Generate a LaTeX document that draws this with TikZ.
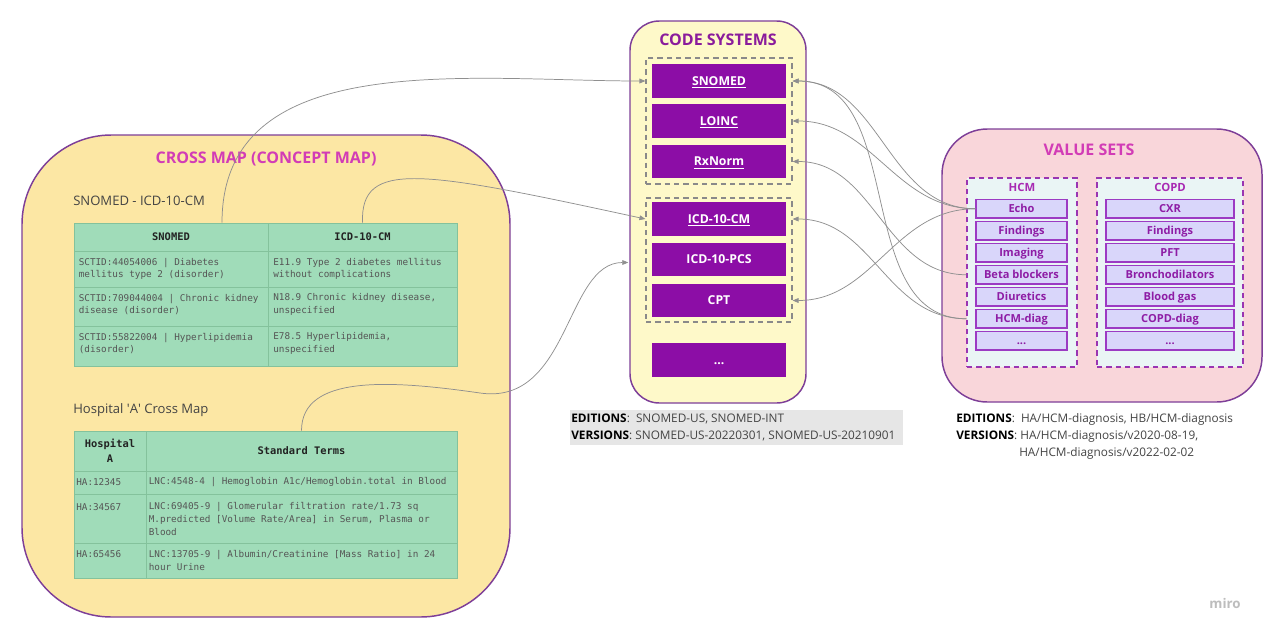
\documentclass[tikz,border=0pt]{standalone}
\usepackage{fontspec}
\setmainfont{Open Sans}
\newfontfamily\monof{DejaVu Sans Mono}
\usetikzlibrary{calc,arrows.meta}
\definecolor{ccross}{HTML}{FCE7A4}
\definecolor{cpurp}{HTML}{7E3F98}
\definecolor{ctitle}{HTML}{D23CB6}
\definecolor{ccstitle}{HTML}{8A1C9C}
\definecolor{ctfill}{HTML}{A0DCB9}
\definecolor{ctline}{HTML}{84C29C}
\definecolor{ctxt}{HTML}{555555}
\definecolor{chdr}{HTML}{222222}
\definecolor{ccsfill}{HTML}{FEF9C9}
\definecolor{ccsbox}{HTML}{8C0DA6}
\definecolor{cdash}{HTML}{8A8A8A}
\definecolor{cvsfill}{HTML}{F9D6DA}
\definecolor{cgrpf}{HTML}{EAF5F5}
\definecolor{cvsdash}{HTML}{9A35B2}
\definecolor{cgrplbl}{HTML}{A82AB3}
\definecolor{citemf}{HTML}{D9D6FA}
\definecolor{citemb}{HTML}{9C3BC3}
\definecolor{citemt}{HTML}{8E1DA5}
\definecolor{cconn}{HTML}{8F8F8F}
\definecolor{cedit}{HTML}{E6E6E6}
\definecolor{csub}{HTML}{444444}
\definecolor{cmiro}{HTML}{BDBDBD}
\newcommand\tmono{\monof\fontsize{7}{9.5}\selectfont}
\newcommand\tmonob{\monof\bfseries\fontsize{7.8}{11.25}\selectfont}
\newcommand\edfont{\fontsize{8.85}{11}\selectfont}
\begin{document}
\begin{tikzpicture}[x=0.75pt,y=-0.75pt,
  sz/.style 2 args={minimum width={#1*0.75pt}, minimum height={#2*0.75pt}},
  container/.style={draw=cpurp, line width=1.1pt, inner sep=0pt},
  bigtitle/.style={font=\bfseries\fontsize{12}{14}\selectfont, inner sep=0pt},
  subtitle/.style={font=\fontsize{9.8}{12}\selectfont, text=csub, inner sep=0pt, anchor=west},
  cell/.style={draw=ctline, fill=ctfill, line width=0.6pt, inner sep=0pt},
  hcell/.style={cell, font=\tmonob, text=chdr, align=center},
  ctext/.style={font=\tmono, text=ctxt, align=left, anchor=west, inner sep=0pt},
  csitem/.style={fill=ccsbox, inner sep=0pt, text=white, text height=6.6pt, text depth=0pt, font=\bfseries\fontsize{9.2}{11}\selectfont},
  csgroup/.style={draw=cdash, dash pattern=on 4pt off 3pt, line width=0.9pt, inner sep=0pt},
  vsgroup/.style={draw=cvsdash, fill=cgrpf, dash pattern=on 4pt off 3pt, line width=1pt, inner sep=0pt},
  vsitem/.style={draw=citemb, fill=citemf, line width=0.9pt, inner sep=0pt, text=citemt, text height=5.9pt, text depth=0pt, font=\bfseries\fontsize{8.3}{10}\selectfont},
  grplabel/.style={text=cgrplbl, font=\bfseries\fontsize{8.5}{10}\selectfont, inner sep=0pt},
  edtext/.style={font=\edfont, text=csub, anchor=west, inner sep=0pt},
  conn/.style={draw=cconn, line width=0.55pt, -{Triangle[length=4.5pt,width=3.6pt]}}
]
\useasboundingbox (0,0) rectangle (1280,639);
\fill[white] (0,0) rectangle (1280,639);

% ---------------- containers
\node[container, fill=ccross, rounded corners=67pt, sz={488}{482}] (cross) at (266,376) {};
\node[container, fill=ccsfill, rounded corners=22pt, sz={176}{382}] (cs) at (718,212) {};
\node[container, fill=cvsfill, rounded corners=34pt, sz={320}{273}] (vs) at (1102,265.5) {};

% ---------------- cross map
\node[bigtitle, text=ctitle] (crosstitle) at (266,159) {CROSS MAP (CONCEPT MAP)};
\node[subtitle] (sub1) at (73,201) {SNOMED - ICD-10-CM};
\node[subtitle] (sub2) at (73,410) {Hospital \textquotesingle A\textquotesingle\ Cross Map};

% table 1
\node[hcell, sz={194}{28}, text height=5.7pt, text depth=0pt] (t1h1) at (171,237) {SNOMED};
\node[hcell, sz={189}{28}, text height=5.7pt, text depth=0pt] (t1h2) at (362.5,237) {ICD-10-CM};
\node[cell, sz={194}{36}] (t1a1) at (171,269) {};
\node[cell, sz={189}{36}] (t1a2) at (362.5,269) {};
\node[cell, sz={194}{39}] (t1b1) at (171,306.5) {};
\node[cell, sz={189}{39}] (t1b2) at (362.5,306.5) {};
\node[cell, sz={194}{40}] (t1c1) at (171,346) {};
\node[cell, sz={189}{40}] (t1c2) at (362.5,346) {};
\node[ctext] (x1a1) at (78.5,269) {SCTID:44054006 | Diabetes\\mellitus type 2 (disorder)};
\node[ctext] (x1a2) at (273,269) {E11.9 Type 2 diabetes mellitus\\without complications};
\node[ctext] (x1b1) at (78.5,304.5) {SCTID:709044004 | Chronic kidney\\disease (disorder)};
\node[ctext] (x1b2) at (273,304.5) {N18.9 Chronic kidney disease,\\unspecified};
\node[ctext] (x1c1) at (78.5,343.5) {SCTID:55822004 | Hyperlipidemia\\(disorder)};
\node[ctext] (x1c2) at (273,343.5) {E78.5 Hyperlipidemia,\\unspecified};

% table 2
\node[hcell, sz={72}{40}] (t2h1) at (110,451) {Hospital\\A};
\node[hcell, sz={311}{40}, text height=5.7pt, text depth=0pt] (t2h2) at (301.5,451) {Standard Terms};
\node[cell, sz={72}{23}] (t2a1) at (110,482.5) {};
\node[cell, sz={311}{23}] (t2a2) at (301.5,482.5) {};
\node[cell, sz={72}{49}] (t2b1) at (110,518.5) {};
\node[cell, sz={311}{49}] (t2b2) at (301.5,518.5) {};
\node[cell, sz={72}{35}] (t2c1) at (110,560.5) {};
\node[cell, sz={311}{35}] (t2c2) at (301.5,560.5) {};
\node[ctext] (x2a1) at (76,482) {HA:12345};
\node[ctext] (x2a2) at (148.5,482) {LNC:4548-4 | Hemoglobin A1c/Hemoglobin.total in Blood};
\node[ctext] (x2b1) at (76,506.7) {HA:34567};
\node[ctext] (x2b2) at (148.5,519) {LNC:69405-9 | Glomerular filtration rate/1.73 sq\\M.predicted [Volume Rate/Area] in Serum, Plasma or\\Blood};
\node[ctext] (x2c1) at (76,554) {HA:65456};
\node[ctext] (x2c2) at (148.5,560.3) {LNC:13705-9 | Albumin/Creatinine [Mass Ratio] in 24\\hour Urine};

% ---------------- code systems
\node[bigtitle, text=ccstitle] (cstitle) at (718,40) {CODE SYSTEMS};
\node[csgroup, sz={146}{126}] (g1) at (719,121) {};
\node[csgroup, sz={146}{124}] (g2) at (719,260) {};
\node[csitem, sz={134}{34}] (snomed) at (719,81) {\underline{SNOMED}};
\node[csitem, sz={134}{34}] (loinc) at (719,121) {\underline{LOINC}};
\node[csitem, sz={134}{33}] (rxnorm) at (719,161.5) {\underline{RxNorm}};
\node[csitem, sz={134}{34}] (icdcm) at (719,219) {\underline{ICD-10-CM}};
\node[csitem, sz={134}{33}] (pcs) at (719,259.5) {ICD-10-PCS};
\node[csitem, sz={134}{33}] (cpt) at (719,300.5) {CPT};
\node[csitem, sz={134}{34}] (csmore) at (719,360) {...};

% ---------------- value sets
\node[bigtitle, text=ctitle] (vstitle) at (1089,150) {VALUE SETS};
\node[vsgroup, sz={110}{189}] (hcm) at (1022,272.5) {};
\node[vsgroup, sz={146}{189}] (copd) at (1170,272.5) {};
\node[grplabel] (hcmlbl) at (1022,187) {HCM};
\node[grplabel] (copdlbl) at (1170,187) {COPD};

\node[vsitem, sz={91}{18.5}] (echo) at (1021.5,208.75) {Echo};
\node[vsitem, sz={91}{18.5}] (hfind) at (1021.5,230.75) {Findings};
\node[vsitem, sz={91}{18.5}] (himg) at (1021.5,252.75) {Imaging};
\node[vsitem, sz={91}{18.5}] (beta) at (1021.5,274.75) {Beta blockers};
\node[vsitem, sz={91}{18.5}] (diur) at (1021.5,296.75) {Diuretics};
\node[vsitem, sz={91}{18.5}] (hcmdiag) at (1021.5,318.75) {HCM-diag};
\node[vsitem, sz={91}{18.5}] (hmore) at (1021.5,340.75) {...};

\node[vsitem, sz={128}{18.5}] (cxr) at (1170,208.75) {CXR};
\node[vsitem, sz={128}{18.5}] (cfind) at (1170,230.75) {Findings};
\node[vsitem, sz={128}{18.5}] (pft) at (1170,252.75) {PFT};
\node[vsitem, sz={128}{18.5}] (bron) at (1170,274.75) {Bronchodilators};
\node[vsitem, sz={128}{18.5}] (bgas) at (1170,296.75) {Blood gas};
\node[vsitem, sz={128}{18.5}] (copddiag) at (1170,318.75) {COPD-diag};
\node[vsitem, sz={128}{18.5}] (cmore) at (1170,340.75) {...};

% ---------------- editions / versions
\fill[cedit] (570,410) rectangle (903,445);
\node[edtext] (ed1) at (571,419) {\textcolor{black}{\bfseries EDITIONS}:\ \ SNOMED-US, SNOMED-INT};
\node[edtext] (ve1) at (571,436) {\textcolor{black}{\bfseries VERSIONS}: SNOMED-US-20220301, SNOMED-US-20210901};
\node[edtext] (ed2) at (956,419) {\textcolor{black}{\bfseries EDITIONS}:\ \ HA/HCM-diagnosis, HB/HCM-diagnosis};
\node[edtext] (ve2) at (956,436) {\textcolor{black}{\bfseries VERSIONS}: HA/HCM-diagnosis/v2020-08-19,};
\node[edtext] (ve2b) at (1019,453) {HA/HCM-diagnosis/v2022-02-02};

\node[text=cmiro, font=\bfseries\fontsize{10}{12}\selectfont, inner sep=0pt] (miro) at (1225,603) {miro};

% ---------------- connectors (left)
\coordinate (hbend) at (480,393);
\draw[conn] ($(t1h1.north)+(51,0)$) .. controls +(0,-176) and +(-176,0) .. (g1.west |- snomed);
\draw[conn] (t1h2.north) .. controls +(-2,-63) and +(-226,-49) .. (g2.west |- icdcm);
\draw[conn] (t2h2.north) .. controls +(0,-56) and +(-90,-13) .. (hbend) .. controls +(90,13) and +(-63,0) .. ($(cs.west |- pcs)+(-1,3)$);

% ---------------- connectors (right)
\draw[conn] (echo.west) .. controls +(-88,0) and +(88,0) .. (g1.east |- snomed);
\draw[conn] (echo.west) .. controls +(-80,0) and +(80,0) .. (g1.east |- loinc);
\draw[conn] (echo.west) .. controls +(-81,0) and +(81,0) .. (g2.east |- cpt);
\draw[conn] (hcm.west |- beta) .. controls +(-82,0) and +(82,0) .. (g1.east |- rxnorm);
\draw[conn] (hcm.west |- hcmdiag) .. controls +(-116,0) and +(116,0) .. (g1.east |- snomed);
\draw[conn] (hcm.west |- hcmdiag) .. controls +(-80,0) and +(80,0) .. (g2.east |- icdcm);
\end{tikzpicture}
\end{document}
